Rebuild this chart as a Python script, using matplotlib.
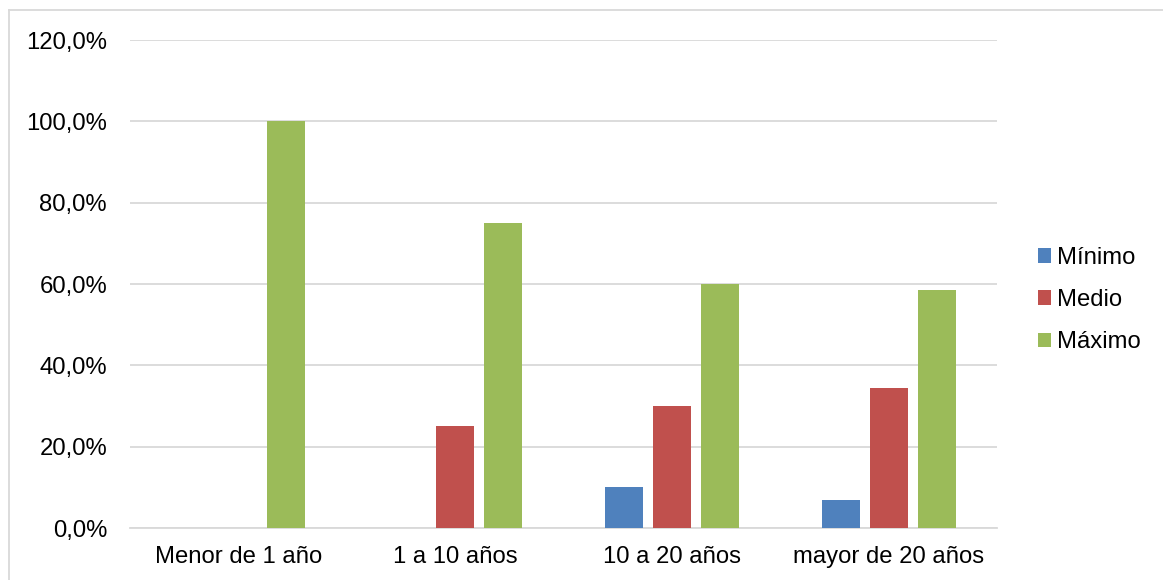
import numpy as np
import matplotlib.pyplot as plt
from matplotlib.lines import Line2D
from matplotlib.ticker import FuncFormatter

plt.rcParams['font.family'] = ['Liberation Sans', 'DejaVu Sans']

categorias = ["Menor de 1 año", "1 a 10 años", "10 a 20 años", "mayor de 20 años"]
minimo = [0.0, 0.0, 10.0, 6.8]
medio = [0.0, 25.0, 30.0, 34.4]
maximo = [100.0, 75.0, 60.0, 58.5]
series = ["Mínimo", "Medio", "Máximo"]
colores = ["#4F81BD", "#C0504D", "#9BBB59"]

fig = plt.figure(figsize=(11.63, 5.80), dpi=100)
ax = fig.add_axes([130 / 1163, 1 - 528 / 580, 867 / 1163, 488 / 580])

x = np.arange(len(categorias))
ancho = 0.175
paso = 0.2215
for i, (vals, nombre, col) in enumerate(zip([minimo, medio, maximo], series, colores)):
    ax.bar(x + (i - 1) * paso, vals, ancho, color=col, label=nombre, zorder=3)

ax.set_xlim(-0.5, len(categorias) - 0.5)
ax.set_ylim(0, 120)
ax.set_yticks(np.arange(0, 121, 20))
ax.yaxis.set_major_formatter(FuncFormatter(lambda v, p: f"{v:.1f}%".replace(".", ",")))
ax.set_xticks(x)
ax.set_xticklabels(categorias)
ax.tick_params(axis='both', length=0, labelsize=17.2, colors='black')
ax.tick_params(axis='y', pad=16.5)
ax.tick_params(axis='x', pad=13)
ax.grid(axis='y', color='#D9D9D9', linewidth=1.3, zorder=0)
for s in ['top', 'right', 'left']:
    ax.spines[s].set_visible(False)
ax.spines['bottom'].set_color('#D9D9D9')
ax.spines['bottom'].set_linewidth(1.3)

ax.legend(loc='center left', bbox_to_anchor=(1.022, 0.467), frameon=False, fontsize=17.2,
          handlelength=0.55, handleheight=0.55, handletextpad=0.25, labelspacing=0.85)

# borde exterior
fig.add_artist(Line2D([9 / 1163, 9 / 1163], [0, 1 - 10 / 580], color='#D9D9D9', lw=1.3))
fig.add_artist(Line2D([9 / 1163, 1], [1 - 10 / 580, 1 - 10 / 580], color='#D9D9D9', lw=1.3))

fig.savefig("out.png", dpi=100)
